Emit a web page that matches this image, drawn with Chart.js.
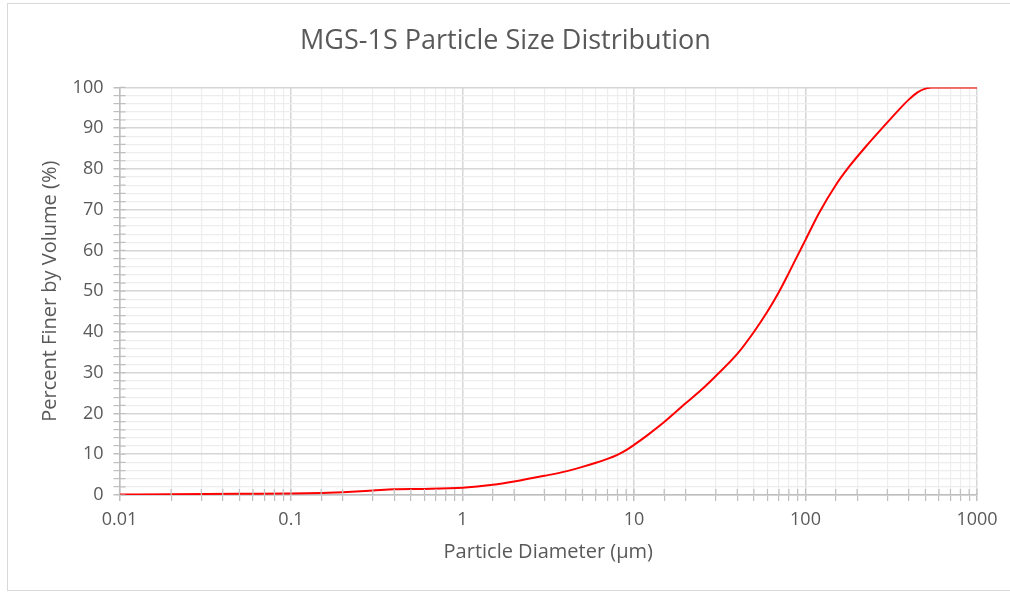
<!DOCTYPE html>
<html>
<head>
<meta charset="utf-8">
<script src="https://cdn.jsdelivr.net/npm/chart.js@4.4.1/dist/chart.umd.min.js"></script>
<style>
    body { margin: 0; background: #fff; }
    #frame {
        position: absolute;
        left: 7px;
        top: 3px;
        width: 1010px;
        height: 588px;
        border: 1.5px solid #d9d9d9;
        box-sizing: border-box;
    }
    #chart { position: absolute; left: 0; top: 0; }
</style>
</head>
<body>
<div id="frame"></div>
<canvas id="chart" width="1010" height="594"></canvas>
<script>
// Data
const DIAMETERS = [0.01, 0.02, 0.05, 0.1, 0.15, 0.2, 0.3, 0.4, 0.6, 1, 1.5, 2, 3, 4, 5, 6, 7, 8, 9, 10, 12, 15, 20, 25, 30, 40, 50, 60, 70, 80, 90, 100, 120, 150, 180, 225, 280, 350, 400, 450, 500, 550, 1000];
const PERCENT_FINER = [0.1, 0.2, 0.3, 0.35, 0.5, 0.7, 1.1, 1.4, 1.5, 1.8, 2.5, 3.3, 4.7, 5.8, 6.9, 7.9, 8.85, 9.85, 11, 12.3, 14.7, 17.9, 22.5, 26, 29.2, 34.6, 40, 45, 49.8, 54.5, 58.8, 62.6, 69.2, 76, 80.6, 85.5, 90, 94.5, 97, 98.8, 99.7, 100, 100];
const X_RANGE = [0.01, 1000];
const Y_RANGE = [0, 100];

const TEXT_COLOR = '#595959';
const GRID_MAJOR = '#d6d6d6';
const GRID_MINOR = '#ededed';
const AXIS_COLOR = '#bfbfbf';

Chart.defaults.font.family = "'Open Sans', 'Noto Sans', sans-serif";
Chart.defaults.color = TEXT_COLOR;

function isDecade(v) {
    const l = Math.log10(v);
    return Math.abs(l - Math.round(l)) < 1e-6;
}

// Excel style cross ticks: draw the inner half of each tick mark
const crossTicks = {
    id: 'crossTicks',
    afterDatasetsDraw(chart) {
        const { ctx, chartArea, scales } = chart;
        ctx.save();
        ctx.strokeStyle = AXIS_COLOR;
        ctx.lineWidth = 1.2;
        ctx.beginPath();
        for (const t of scales.y.ticks) {
            const py = scales.y.getPixelForValue(t.value);
            ctx.moveTo(chartArea.left, py);
            ctx.lineTo(chartArea.left + 6, py);
        }
        for (const t of scales.x.ticks) {
            const px = scales.x.getPixelForValue(t.value);
            ctx.moveTo(px, chartArea.bottom);
            ctx.lineTo(px, chartArea.bottom - 6);
        }
        ctx.stroke();
        ctx.restore();
    }
};

new Chart(document.getElementById('chart'), {
    type: 'scatter',
    data: {
        datasets: [{
            data: DIAMETERS.map((d, i) => ({ x: d, y: PERCENT_FINER[i] })),
            showLine: true,
            borderColor: '#ff0000',
            borderWidth: 2,
            pointRadius: 0,
            cubicInterpolationMode: 'monotone',
        }]
    },
    options: {
        responsive: false,
        animation: false,
        layout: {
            padding: { left: 34, right: 33, top: 0, bottom: 26 }
        },
        plugins: {
            legend: { display: false },
            tooltip: { enabled: false },
            title: {
                display: true,
                text: 'MGS-1S Particle Size Distribution',
                color: TEXT_COLOR,
                font: { size: 27, weight: 'normal' },
                padding: { top: 25, bottom: 30 }
            }
        },
        scales: {
            x: {
                type: 'logarithmic',
                min: X_RANGE[0],
                max: X_RANGE[1],
                afterFit: (scale) => { scale.height = 73; },
                border: { color: AXIS_COLOR, width: 1.5 },
                grid: {
                    color: (c) => c.tick && isDecade(c.tick.value) ? GRID_MAJOR : GRID_MINOR,
                    lineWidth: (c) => c.tick && isDecade(c.tick.value) ? 1.5 : 1.2,
                    tickColor: AXIS_COLOR,
                    tickLength: 6,
                },
                ticks: {
                    autoSkip: false,
                    maxRotation: 0,
                    padding: 8,
                    color: TEXT_COLOR,
                    font: { size: 18 },
                    callback: (v) => isDecade(v) ? String(+v.toPrecision(3)) : ''
                },
                title: {
                    display: true,
                    text: 'Particle Diameter (µm)',
                    color: TEXT_COLOR,
                    font: { size: 20 }
                }
            },
            y: {
                min: Y_RANGE[0],
                max: Y_RANGE[1],
                afterFit: (scale) => { scale.width = 85.5; },
                border: { color: AXIS_COLOR, width: 1.5 },
                grid: {
                    color: (c) => c.tick && c.tick.value % 10 === 0 ? GRID_MAJOR : GRID_MINOR,
                    lineWidth: (c) => c.tick && c.tick.value % 10 === 0 ? 1.5 : 1.2,
                    tickColor: AXIS_COLOR,
                    tickLength: 6,
                },
                ticks: {
                    stepSize: 2,
                    autoSkip: false,
                    padding: 10,
                    color: TEXT_COLOR,
                    font: { size: 18 },
                    callback: (v) => v % 10 === 0 ? v : ''
                },
                title: {
                    display: true,
                    text: 'Percent Finer by Volume (%)',
                    color: TEXT_COLOR,
                    font: { size: 20 }
                }
            }
        }
    },
    plugins: [crossTicks]
});
</script>
</body>
</html>
